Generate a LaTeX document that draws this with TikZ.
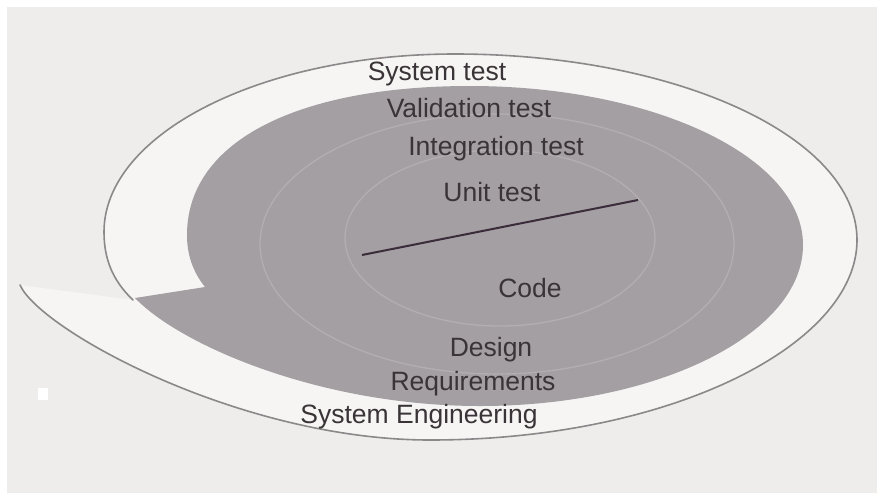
\documentclass[tikz,border=0pt]{standalone}
\usepackage{fontspec}
\setmainfont{Liberation Sans}
\begin{document}
\begin{tikzpicture}[x=1pt,y=-1pt,
  lbl/.style={anchor=base,inner sep=0pt,text=txtcol,font=\fontsize{26.5}{28}\selectfont},
  outerline/.style={draw=linecol,line width=1.6pt,line cap=round},
  ring/.style={draw=ringcol,line width=1.3pt}]
\definecolor{paper}{HTML}{EEEDEC}
\definecolor{inside}{HTML}{F6F5F4}
\definecolor{grayfill}{HTML}{A49FA2}
\definecolor{txtcol}{HTML}{3A3337}
\definecolor{linecol}{HTML}{8C8789}
\definecolor{ringcol}{HTML}{B3AFB1}
\definecolor{darkline}{HTML}{3A2C3A}
\useasboundingbox (0,0) rectangle (877,493);
\fill[paper] (0,0) rectangle (877,493);
\fill[white] (0,0) rectangle (877,7);
\fill[white] (0,0) rectangle (7,493);
% key points of the outer spiral
\coordinate (oi) at (133,300);
\coordinate (ol) at (104,232);
\coordinate (ot) at (455,54);
\coordinate (or) at (857,240);
\coordinate (ob) at (430,440);
\coordinate (oe) at (20,285);
% whitish area enclosed by the outer spiral
\fill[inside] (oi) .. controls (112,280) and (104,258) .. (ol)
  .. controls (104,134) and (261,54) .. (ot)
  .. controls (677,54) and (857,137) .. (or)
  .. controls (857,345) and (670,440) .. (ob)
  .. controls (240,440) and (40,330) .. (oe) -- cycle;
% grey spiral body
\coordinate (gc) at (205,287);
\coordinate (gp) at (135,298);
\fill[grayfill] (gc) .. controls (193,272) and (187,255) .. (187,235)
  .. controls (187,140) and (300,86) .. (470,86)
  .. controls (654,86) and (803,157) .. (803,245)
  .. controls (803,334) and (658,406) .. (480,406)
  .. controls (320,406) and (180,345) .. (gp) -- cycle;
% faint inner spiral rings
\draw[ring] (500,238) ellipse [x radius=155,y radius=88];
\draw[ring] (497,244) ellipse [x radius=237,y radius=130];
% outer spiral line
\draw[outerline] (oi) .. controls (112,280) and (104,258) .. (ol)
  .. controls (104,134) and (261,54) .. (ot)
  .. controls (677,54) and (857,137) .. (or)
  .. controls (857,345) and (670,440) .. (ob)
  .. controls (240,440) and (40,330) .. (oe);
% scan speck
\fill[white] (38,388) rectangle (48,400);
% central line
\coordinate (la) at (362,255);
\coordinate (lb) at (638,200);
\draw[darkline,line width=2pt] (la) -- (lb);
% labels
\node[lbl] (st) at (437,80) {System test};
\node[lbl] (vt) at (469,117) {Validation test};
\node[lbl] (it) at (496,155) {Integration test};
\node[lbl] (ut) at (492,201) {Unit test};
\node[lbl] (cd) at (530,297) {Code};
\node[lbl] (dg) at (491,356) {Design};
\node[lbl] (rq) at (473,390) {Requirements};
\node[lbl] (se) at (419,423) {System Engineering};
\end{tikzpicture}
\end{document}
